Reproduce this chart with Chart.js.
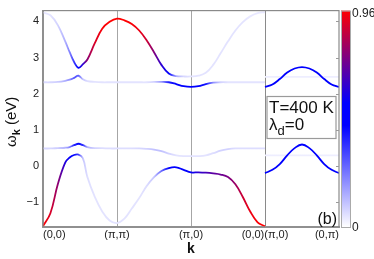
<!DOCTYPE html>
<html lang="en">
<head>
  <meta charset="UTF-8" />
  <title>Spectral weight along k path – T=400 K</title>
  <script src="https://cdn.jsdelivr.net/npm/chart.js"></script>
  <style>
    body { margin: 0; background: #fff; }
    #wrap { width: 374px; height: 259px; position: relative; }
  </style>
</head>
<body>
<div id="wrap"><canvas id="bands"></canvas></div>
<script>
  // k path: main panel (0,0)->(pi,pi)->(pi,0)->(0,0) on 0..3, side panel (pi,0)->(0,pi) on 3..4
  const kMain = [0, 0.1, 0.2, 0.3, 0.36, 0.42, 0.48, 0.54, 0.6, 0.7, 0.8, 0.9, 1.0,
                 1.1, 1.2, 1.3, 1.4, 1.5, 1.6, 1.7, 1.8, 1.9, 2.0,
                 2.1, 2.2, 2.3, 2.4, 2.5, 2.6, 2.7, 2.8, 2.9, 3.0];
  const kSide = [3.0, 3.1, 3.2, 3.3, 3.4, 3.5, 3.6, 3.7, 3.8, 3.9, 4.0];
  const kTicks = [0, 1, 2, 3, 4];
  const kLabels = ['(0,0)', '(π,π)', '(π,0)', '(0,0)(π,0)', '(0,π)'];
  const yTicks = [-1, 0, 1, 2, 3, 4];

  // band energies (eV) and spectral weights, main panel
  const bandTop = [4.25, 4.17, 3.9, 3.45, 3.15, 2.88, 2.72, 2.82, 2.95, 3.4, 3.8, 3.99, 4.08,
                   4.03, 3.93, 3.75, 3.48, 3.15, 2.8, 2.56, 2.49, 2.48, 2.48,
                   2.5, 2.58, 2.8, 3.12, 3.45, 3.75, 3.98, 4.14, 4.23, 4.26];
  const wTop = [0.04, 0.05, 0.08, 0.14, 0.22, 0.35, 0.48, 0.62, 0.78, 0.9, 0.95, 0.96, 0.96,
                0.96, 0.95, 0.93, 0.88, 0.76, 0.62, 0.48, 0.15, 0.07, 0.05,
                0.05, 0.05, 0.05, 0.05, 0.05, 0.05, 0.05, 0.04, 0.04, 0.04];

  const bandMid = [2.32, 2.32, 2.33, 2.36, 2.39, 2.44, 2.5, 2.4, 2.35, 2.33, 2.32, 2.32, 2.32,
                   2.32, 2.32, 2.32, 2.32, 2.33, 2.33, 2.32, 2.27, 2.21, 2.19,
                   2.21, 2.27, 2.31, 2.32, 2.32, 2.32, 2.32, 2.32, 2.32, 2.32];
  const wMid = [0.06, 0.07, 0.09, 0.14, 0.2, 0.3, 0.28, 0.1, 0.06, 0.05, 0.05, 0.05, 0.05,
                0.05, 0.05, 0.05, 0.05, 0.08, 0.18, 0.4, 0.5, 0.52, 0.52,
                0.5, 0.42, 0.2, 0.08, 0.05, 0.05, 0.05, 0.05, 0.05, 0.05];

  const bandLow = [0.49, 0.49, 0.5, 0.51, 0.53, 0.58, 0.62, 0.58, 0.53, 0.5, 0.5, 0.49, 0.49,
                   0.49, 0.49, 0.49, 0.48, 0.46, 0.42, 0.35, 0.3, 0.28, 0.28,
                   0.28, 0.3, 0.36, 0.43, 0.47, 0.49, 0.49, 0.49, 0.49, 0.49];
  const wLow = [0.07, 0.07, 0.09, 0.13, 0.22, 0.38, 0.48, 0.36, 0.14, 0.08, 0.06, 0.06, 0.06,
                0.06, 0.06, 0.07, 0.08, 0.11, 0.11, 0.08, 0.05, 0.05, 0.05,
                0.05, 0.05, 0.06, 0.08, 0.08, 0.06, 0.06, 0.06, 0.06, 0.06];

  const bandBottom = [-1.66, -1.3, -0.5, 0.1, 0.24, 0.31, 0.32, 0.22, -0.3, -0.85, -1.25, -1.5, -1.57,
                      -1.45, -1.17, -0.88, -0.55, -0.3, -0.13, -0.05, -0.03, -0.1, -0.17,
                      -0.17, -0.18, -0.2, -0.23, -0.3, -0.5, -0.85, -1.25, -1.55, -1.66];
  const wBottom = [0.96, 0.9, 0.78, 0.6, 0.5, 0.44, 0.34, 0.1, 0.06, 0.05, 0.05, 0.05, 0.05,
                   0.05, 0.05, 0.05, 0.06, 0.1, 0.26, 0.45, 0.5, 0.52, 0.56,
                   0.62, 0.66, 0.7, 0.72, 0.75, 0.8, 0.88, 0.93, 0.95, 0.96];

  // side panel
  const sideUpper = [2.19, 2.26, 2.41, 2.59, 2.7, 2.74, 2.7, 2.59, 2.41, 2.26, 2.19];
  const wSideUpper = [0.5, 0.5, 0.48, 0.46, 0.5, 0.5, 0.5, 0.46, 0.48, 0.5, 0.5];
  const sideFaintHi = [2.47, 2.47, 2.47, 2.47, 2.47, 2.47, 2.47, 2.47, 2.47, 2.47, 2.47];
  const sideLower = [-0.19, -0.1, 0.06, 0.3, 0.5, 0.6, 0.5, 0.3, 0.06, -0.1, -0.19];
  const wSideLower = [0.5, 0.5, 0.46, 0.46, 0.5, 0.5, 0.5, 0.46, 0.46, 0.5, 0.5];
  const sideFaintLo = [0.3, 0.3, 0.3, 0.3, 0.3, 0.3, 0.3, 0.3, 0.3, 0.3, 0.3];
  const wSideFaint = [0.03, 0.03, 0.03, 0.03, 0.03, 0.03, 0.03, 0.03, 0.03, 0.03, 0.03];

  const wMax = 0.96;
  // colour map: white -> blue -> red
  const cmap = [[0, [255, 255, 255]], [0.45, [0, 0, 255]], [0.55, [0, 0, 255]], [0.96, [255, 0, 0]]];

  Chart.defaults.font.family = '"Liberation Sans", Arial, sans-serif';

  function weightColor(w) {
    for (let i = 1; i < cmap.length; i++) {
      if (w <= cmap[i][0] || i === cmap.length - 1) {
        const [a, ca] = cmap[i - 1], [b, cb] = cmap[i];
        const t = Math.min(1, Math.max(0, (w - a) / (b - a)));
        const c = ca.map((v, j) => Math.round(v + (cb[j] - v) * t));
        return `rgb(${c.join(',')})`;
      }
    }
  }

  // horizontal gradient along the band, one stop per k point
  function bandGradient(ctx) {
    const chart = ctx.chart;
    const ds = ctx.dataset;
    if (!chart.chartArea) return weightColor(ds.weights[0]);
    const xs = chart.scales.x;
    const x0 = xs.getPixelForValue(ds.data[0].x);
    const x1 = xs.getPixelForValue(ds.data[ds.data.length - 1].x);
    const g = chart.ctx.createLinearGradient(x0, 0, x1, 0);
    ds.data.forEach((p, i) => {
      g.addColorStop((xs.getPixelForValue(p.x) - x0) / (x1 - x0), weightColor(ds.weights[i]));
    });
    return g;
  }

  function band(xs, ys, ws) {
    return {
      data: xs.map((x, i) => ({ x, y: ys[i] })),
      weights: ws,
      borderColor: bandGradient,
      borderWidth: 1.8,
      pointRadius: 0,
      tension: 0.4,
      fill: false
    };
  }

  const decor = {
    id: 'decor',
    afterDatasetsDraw(chart) {
      const { ctx, chartArea: a, scales: { x, y } } = chart;
      ctx.save();

      // frame
      ctx.strokeStyle = '#8a8a8a';
      ctx.lineWidth = 1.2;
      ctx.strokeRect(a.left, a.top, a.right - a.left, a.bottom - a.top);

      // small inward ticks on the right border
      ctx.lineWidth = 1;
      ctx.strokeStyle = '#9a9a9a';
      yTicks.forEach(v => {
        const py = Math.round(y.getPixelForValue(v)) + 0.5;
        ctx.beginPath();
        ctx.moveTo(a.right - 3, py);
        ctx.lineTo(a.right, py);
        ctx.stroke();
      });

      // label box in the side panel
      const bl = x.getPixelForValue(3) + 2, br = a.right - 3;
      const bt = Math.round(y.getPixelForValue(1.93)) + 0.5, bb = Math.round(y.getPixelForValue(0.79)) + 0.5;
      ctx.fillStyle = '#fff';
      ctx.fillRect(bl, bt, br - bl, bb - bt);
      ctx.strokeStyle = '#9a9a9a';
      ctx.lineWidth = 1.2;
      ctx.strokeRect(bl, bt, br - bl, bb - bt);
      ctx.fillStyle = '#111';
      ctx.textBaseline = 'alphabetic';
      ctx.textAlign = 'left';
      ctx.font = '17px "Liberation Sans", Arial, sans-serif';
      ctx.fillText('T=400 K', bl + 2, bt + 16);
      let tx = bl + 2;
      const base2 = bt + 33;
      ctx.fillText('λ', tx, base2);
      tx += ctx.measureText('λ').width;
      ctx.font = '13px "Liberation Sans", Arial, sans-serif';
      ctx.fillText('d', tx, base2 + 5);
      tx += ctx.measureText('d').width;
      ctx.font = '17px "Liberation Sans", Arial, sans-serif';
      ctx.fillText('=0', tx, base2);

      // panel tag
      ctx.font = '16px "Liberation Sans", Arial, sans-serif';
      ctx.textAlign = 'right';
      ctx.fillText('(b)', a.right - 2, a.bottom - 3);

      // colour bar
      const cl = a.right + 2, cw = 9;
      const g = ctx.createLinearGradient(0, a.bottom, 0, a.top);
      cmap.forEach(([w, c]) => g.addColorStop(Math.min(1, w / wMax), `rgb(${c.join(',')})`));
      ctx.fillStyle = g;
      ctx.fillRect(cl, a.top, cw, a.bottom - a.top);
      ctx.strokeStyle = '#aaa';
      ctx.lineWidth = 1;
      ctx.strokeRect(cl + 0.5, a.top + 0.5, cw, a.bottom - a.top);
      ctx.fillStyle = '#222';
      ctx.textAlign = 'left';
      ctx.textBaseline = 'middle';
      ctx.font = '12px "Liberation Sans", Arial, sans-serif';
      ctx.fillText(String(wMax), cl + cw + 2, a.top + 3);
      ctx.fillText('0', cl + cw + 2, a.bottom + 1);

      // y axis title  ω_k (eV)
      ctx.translate(16, (a.top + a.bottom) / 2 + 3);
      ctx.rotate(-Math.PI / 2);
      ctx.textBaseline = 'alphabetic';
      ctx.fillStyle = '#111';
      const big = '15px "Liberation Sans", Arial, sans-serif';
      const sub = 'bold 11px "Liberation Sans", Arial, sans-serif';
      ctx.font = big;
      const wOm = ctx.measureText('ω').width, wEv = ctx.measureText(' (eV)').width;
      ctx.font = sub;
      const wK = ctx.measureText('k').width;
      let sx = -(wOm + wK + wEv) / 2;
      ctx.font = big;
      ctx.fillText('ω', sx, 0); sx += wOm;
      ctx.font = sub;
      ctx.fillText('k', sx, 4); sx += wK;
      ctx.font = big;
      ctx.fillText(' (eV)', sx, 0);

      ctx.restore();
    }
  };

  const gridColor = c => {
    const v = c.tick ? c.tick.value : null;
    if (v === 1 || v === 2) return '#a6a6a6';
    if (v === 3) return '#8a8a8a';
    return 'rgba(0,0,0,0)';
  };

  new Chart(document.getElementById('bands'), {
    type: 'line',
    data: {
      datasets: [
        band(kSide, sideUpper, wSideUpper),
        band(kSide, sideLower, wSideLower),
        band(kMain, bandTop, wTop),
        band(kMain, bandBottom, wBottom),
        band(kMain, bandMid, wMid),
        band(kMain, bandLow, wLow),
        band(kSide, sideFaintHi, wSideFaint),
        band(kSide, sideFaintLo, wSideFaint)
      ]
    },
    options: {
      responsive: true,
      maintainAspectRatio: false,
      animation: false,
      layout: { padding: { top: 6, right: 35, bottom: 0, left: 0 } },
      plugins: { legend: { display: false }, tooltip: { enabled: false } },
      scales: {
        x: {
          type: 'linear',
          min: 0,
          max: 4,
          afterBuildTicks: s => { s.ticks = kTicks.map(v => ({ value: v })); },
          afterFit: s => { s.height = 32; },
          ticks: {
            align: 'inner',
            autoSkip: false,
            maxRotation: 0,
            padding: 1,
            color: '#222',
            font: { size: 11 },
            callback: (v, i) => kLabels[i]
          },
          grid: { drawTicks: false, color: gridColor, lineWidth: 1 },
          border: { display: true, color: '#999', width: 2 },
          title: {
            display: true,
            text: 'k',
            color: '#111',
            font: { size: 14, weight: 'bold' },
            padding: { top: 0, bottom: 1 }
          }
        },
        y: {
          min: -1.68,
          max: 4.3,
          afterBuildTicks: s => { s.ticks = yTicks.map(v => ({ value: v })); },
          afterFit: s => { s.width = 43; },
          ticks: {
            padding: 4,
            color: '#222',
            font: { size: 11 },
            callback: v => v < 0 ? '\u2212' + Math.abs(v) : String(v)
          },
          grid: { display: false, drawTicks: false },
          border: { display: true, color: '#999', width: 2 }
        }
      }
    },
    plugins: [decor]
  });
</script>
</body>
</html>
